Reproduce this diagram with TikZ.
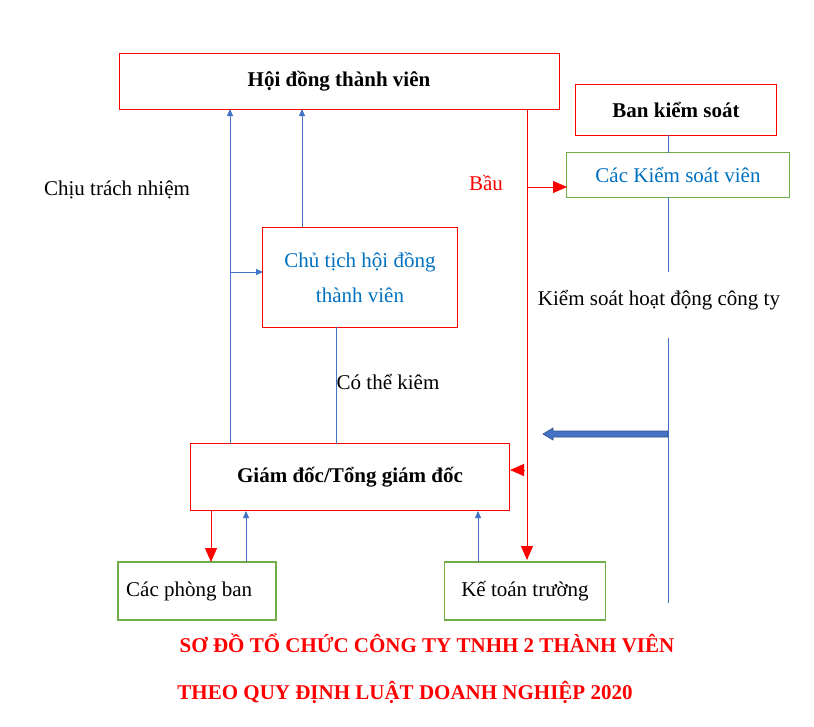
\documentclass[tikz,border=0pt]{standalone}
\usepackage{fontspec}
\setmainfont{Liberation Serif}
\usetikzlibrary{arrows.meta}
\definecolor{bl}{HTML}{4472C4}
\definecolor{gr}{HTML}{70AD47}
\definecolor{tb}{HTML}{0070C0}
\definecolor{rd}{HTML}{FF0000}
\begin{document}
\begin{tikzpicture}[x=1pt,y=-1pt,
 rbox/.style={draw=rd,line width=1pt},
 gbox/.style={draw=gr,line width=1.5pt},
 txt/.style={font=\fontsize{21}{25}\selectfont},
 btxt/.style={font=\fontsize{21}{25}\selectfont\bfseries},
 bline/.style={draw=bl,line width=0.8pt},
 barr/.style={bline,-{Triangle[length=7pt,width=6pt]}},
 rarr/.style={draw=rd,line width=0.8pt,-{Triangle[length=14pt,width=12pt]}}]
\useasboundingbox (0,0) rectangle (814,726);
\node[rbox,minimum width=440,minimum height=56,btxt] (hd) at (339,81) {Hội đồng thành viên};
\node[rbox,minimum width=201,minimum height=51,btxt] (bks) at (676,110) {Ban kiểm soát};
\node[gbox,minimum width=223,minimum height=45,txt,text=tb] (ksv) at (678,175) {Các Kiểm soát viên};
\node[rbox,minimum width=195,minimum height=100,align=center,txt,text=tb] (ct) at (360,277) {Chủ tịch hội đồng\\[10pt]thành viên};
\node[rbox,minimum width=319,minimum height=67,btxt] (gd) at (350,477) {Giám đốc/Tổng giám đốc};
\node[txt,anchor=west,inner sep=8pt] (pb) at (118,591) {Các phòng ban};
\draw[gbox] (118,562) rectangle (276,620);
\node[gbox,minimum width=161,minimum height=58,txt] (kt) at (525,591) {Kế toán trường};
\node[txt] (ctn) at (117,190) {Chịu trách nhiệm};
\node[txt] (ctk) at (388,382) {Có thể kiêm};
\node[txt,text=rd] (bau) at (486,183) {Bầu};
\node[txt] (ksh) at (659,300) {Kiểm soát hoạt động công ty};
\node[btxt,text=rd] (t1) at (427,643) {SƠ ĐỒ TỔ CHỨC CÔNG TY TNHH 2 THÀNH VIÊN};
\node[btxt,text=rd] (t2) at (405,692) {THEO QUY ĐỊNH LUẬT DOANH NGHIỆP 2020};
% blue connectors
\draw[barr] (230,444) -- (230,109);
\draw[barr] (230,272) -- (263,272);
\draw[barr] (302,227) -- (302,109);
\draw[bline] (336,327) -- (336,444);
\draw[barr] (246,562) -- (246,511);
\draw[barr] (478,562) -- (478,511);
\draw[bline] (668,135) -- (668,153);
\draw[bline] (668,197) -- (668,272);
\draw[bline] (668,338) -- (668,603);
\draw[draw=bl!70!black,fill=bl,line width=0.6pt] (668,431) -- (553,431) -- (553,428) -- (543,434) -- (553,440) -- (553,437) -- (668,437) -- cycle;
% red connectors
\draw[rarr] (527,110) -- (527,560);
\draw[rarr] (527,187) -- (567,187);
\draw[rarr] (524,470) -- (510,470);
\draw[rarr] (211,511) -- (211,562);
\end{tikzpicture}
\end{document}
